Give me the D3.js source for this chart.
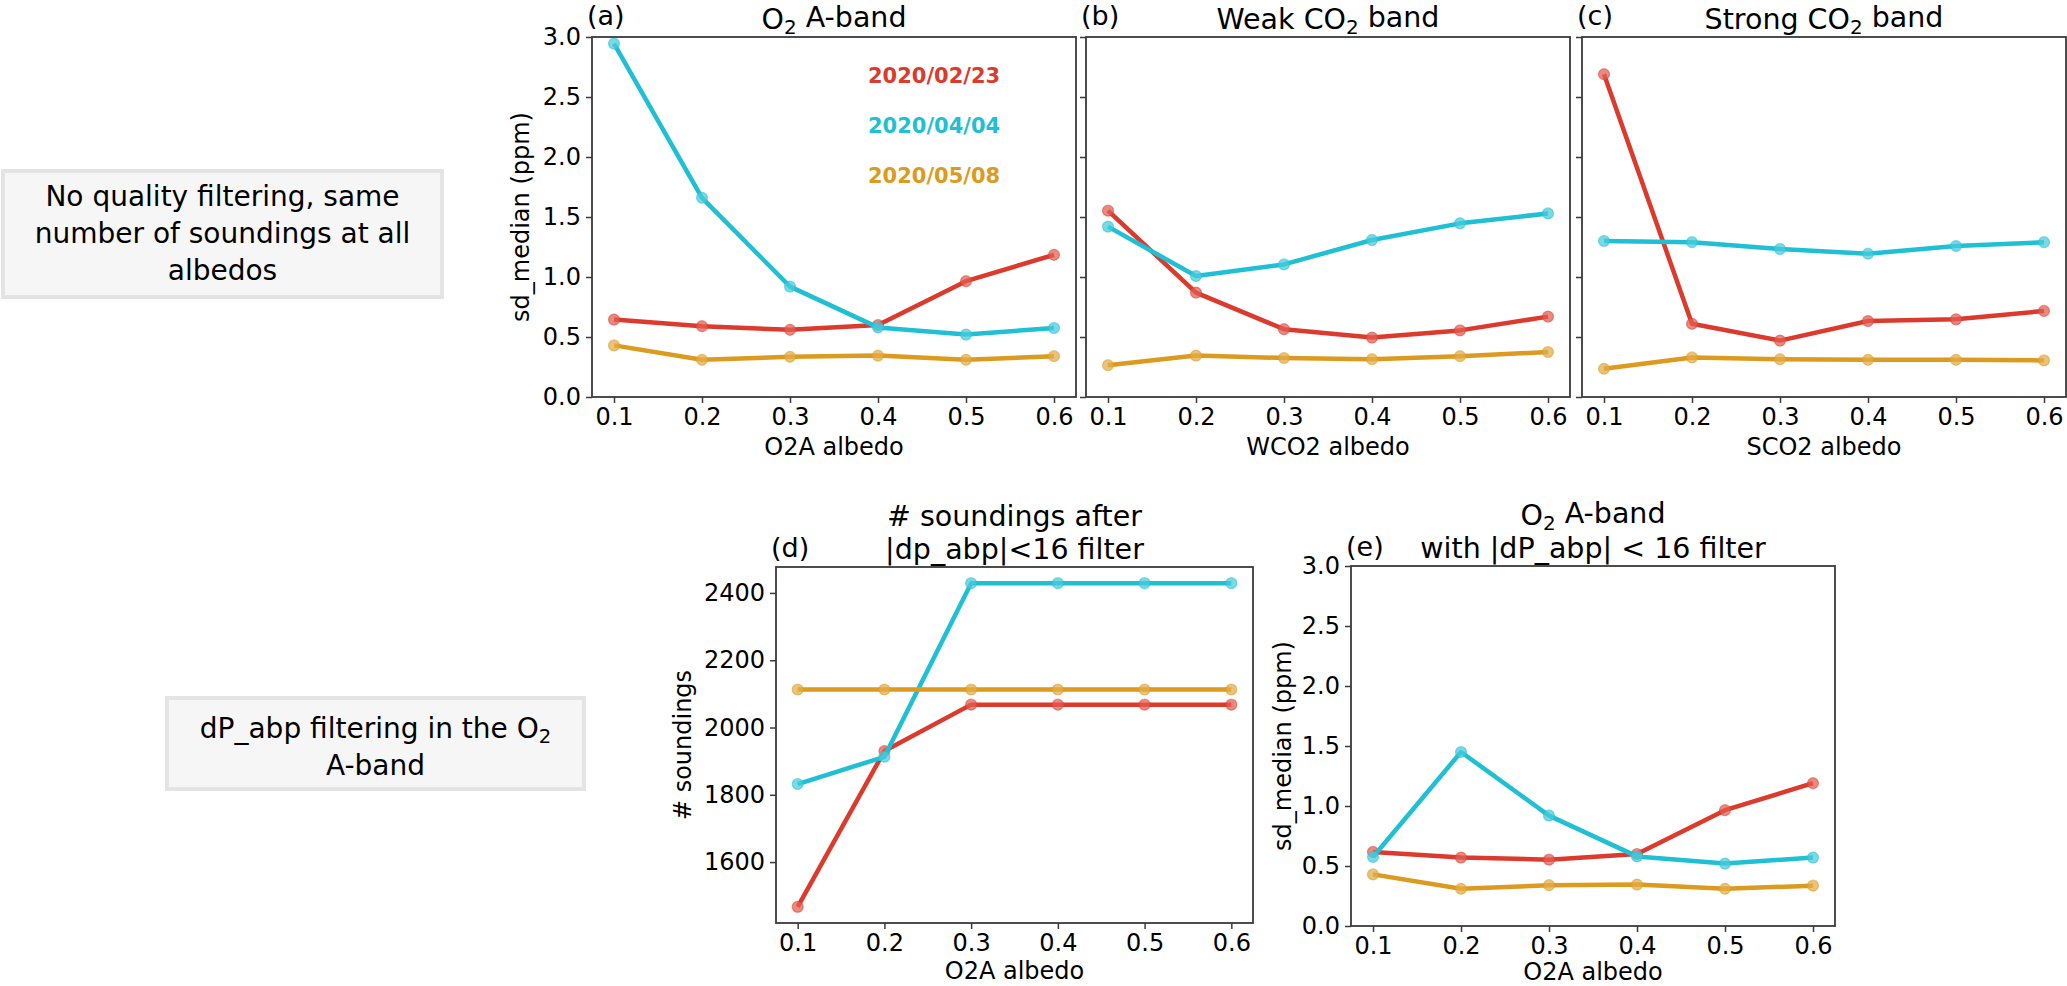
<!DOCTYPE html>
<html>
<head>
<meta charset="utf-8">
<script src="https://cdn.jsdelivr.net/npm/d3@7"></script>
<style>
  body { margin: 0; background: #fff; }
  svg { display: block; font-family: "DejaVu Sans", sans-serif; }
</style>
</head>
<body>
<svg id="chart" width="2067" height="986"></svg>
<script>
// albedo bins shared by every panel
const albedo = [0.1, 0.2, 0.3, 0.4, 0.5, 0.6];
const dates = ["2020/02/23", "2020/04/04", "2020/05/08"];
const colors = ["#dc3a2c", "#1fbfd4", "#dc9a1e"];

// (a) O2 A-band, sd_median (ppm)
const o2aRed    = [0.645, 0.59, 0.56, 0.60, 0.965, 1.185];
const o2aCyan   = [2.945, 1.66, 0.92, 0.58, 0.52, 0.575];
const o2aOrange = [0.43, 0.31, 0.335, 0.345, 0.31, 0.34];

// (b) weak CO2 band
const wco2Red    = [1.553, 0.87, 0.565, 0.495, 0.555, 0.67];
const wco2Cyan   = [1.42, 1.008, 1.105, 1.308, 1.447, 1.53];
const wco2Orange = [0.265, 0.345, 0.325, 0.315, 0.34, 0.375];

// (c) strong CO2 band
const sco2Red    = [2.69, 0.61, 0.47, 0.633, 0.647, 0.717];
const sco2Cyan   = [1.30, 1.29, 1.233, 1.194, 1.258, 1.29];
const sco2Orange = [0.235, 0.33, 0.315, 0.31, 0.31, 0.305];

// (d) number of soundings after |dp_abp|<16
const countRed    = [1467, 1930, 2068, 2068, 2068, 2068];
const countCyan   = [1832, 1913, 2429, 2429, 2429, 2429];
const countOrange = [2113, 2113, 2113, 2113, 2113, 2113];

// (e) O2 A-band with dP_abp filter
const filtRed    = [0.617, 0.57, 0.553, 0.60, 0.965, 1.19];
const filtCyan   = [0.575, 1.45, 0.92, 0.58, 0.52, 0.57];
const filtOrange = [0.43, 0.31, 0.34, 0.345, 0.31, 0.336];

const sdTicks = [0, 0.5, 1.0, 1.5, 2.0, 2.5, 3.0];
const countTicks = [1600, 1800, 2000, 2200, 2400];

const svg = d3.select("#chart");
const ink = "#3a3a3a";

function addSub(sel, parts) {
    // parts: [[text, isSub], ...]
    parts.forEach(([t, sub]) => {
        let ts = sel.append("tspan").text(t);
        if (sub) ts.attr("font-size", "0.7em").attr("dy", "0.25em");
        else if (sel.selectAll("tspan").size() > 1) ts.attr("dy", "-0.25em");
    });
}

function drawPanel(p) {
    let x = d3.scaleLinear().domain([0.075, 0.625]).range([p.left, p.left + p.width]);
    let yDom = p.yDomain;
    if (!yDom) {
        let all = p.series.flat();
        let lo = d3.min(all), hi = d3.max(all), pad = (hi - lo) * 0.05;
        yDom = [lo - pad, hi + pad];
    }
    let y = d3.scaleLinear().domain(yDom).range([p.top + p.height, p.top]);
    let g = svg.append("g");

    let xAxis = g.append("g")
        .attr("transform", `translate(0,${p.top + p.height})`)
        .call(d3.axisBottom(x).tickValues(albedo).tickFormat(d3.format(".1f")).tickSize(6).tickPadding(5));
    let yAxis = g.append("g")
        .attr("transform", `translate(${p.left},0)`)
        .call(d3.axisLeft(y).tickValues(p.yTicks)
            .tickFormat(p.yLabels ? p.yFormat : () => "").tickSize(6).tickPadding(5));
    [xAxis, yAxis].forEach(a => {
        a.select(".domain").remove();
        a.selectAll("line").attr("stroke", ink).attr("stroke-width", 1.5);
        a.selectAll("text").attr("font-size", 24).attr("fill", "#000")
            .attr("font-family", "DejaVu Sans");
    });

    let line = d3.line().x((d, i) => x(albedo[i])).y(d => y(d));
    p.series.forEach((s, k) => {
        g.append("path").datum(s).attr("d", line)
            .attr("fill", "none").attr("stroke", colors[k])
            .attr("stroke-width", 4.5).attr("stroke-linejoin", "round");
        let m = g.append("g");
        m.selectAll("circle.bg").data(s).enter().append("circle")
            .attr("cx", (d, i) => x(albedo[i])).attr("cy", d => y(d)).attr("r", 5.5)
            .attr("fill", "#fff").attr("fill-opacity", 0.35);
        m.selectAll("circle.fg").data(s).enter().append("circle")
            .attr("cx", (d, i) => x(albedo[i])).attr("cy", d => y(d)).attr("r", 5.5)
            .attr("fill", colors[k]).attr("fill-opacity", 0.6)
            .attr("stroke", colors[k]).attr("stroke-opacity", 0.5).attr("stroke-width", 1.2);
    });

    g.append("rect").attr("x", p.left).attr("y", p.top)
        .attr("width", p.width).attr("height", p.height)
        .attr("fill", "none").attr("stroke", ink).attr("stroke-width", 1.8);

    // x label
    g.append("text").attr("x", p.left + p.width / 2).attr("y", p.top + p.height + p.xLabelGap)
        .attr("text-anchor", "middle").attr("font-size", 24).text(p.xLabel);
    // y label
    if (p.yLabel) {
        g.append("text").attr("transform", `translate(${p.yLabelX},${p.top + p.height / 2}) rotate(-90)`)
            .attr("text-anchor", "middle").attr("dominant-baseline", "central")
            .attr("font-size", 24).text(p.yLabel);
    }
    // title lines
    p.title.forEach((parts, j) => {
        let t = g.append("text").attr("x", p.left + p.width / 2)
            .attr("y", p.top - 8 - (p.title.length - 1 - j) * 33)
            .attr("text-anchor", "middle").attr("font-size", 28.5);
        addSub(t, parts);
    });
    g.append("text").attr("x", p.left - 5).attr("y", p.top - (p.title.length > 1 ? 10 : 12))
        .attr("font-size", 27).text(p.letter);
}

const sdFmt = d3.format(".1f");

drawPanel({letter: "(a)", left: 592, top: 37, width: 484, height: 360, xLabelGap: 58,
    series: [o2aRed, o2aCyan, o2aOrange], yDomain: [0, 3], yTicks: sdTicks, yLabels: true, yFormat: sdFmt,
    title: [[["O", false], ["2", true], [" A-band", false]]], xLabel: "O2A albedo",
    yLabel: "sd_median (ppm)", yLabelX: 521});
drawPanel({letter: "(b)", left: 1086, top: 37, width: 484, height: 360, xLabelGap: 58,
    series: [wco2Red, wco2Cyan, wco2Orange], yDomain: [0, 3], yTicks: sdTicks, yLabels: false,
    title: [[["Weak CO", false], ["2", true], [" band", false]]], xLabel: "WCO2 albedo"});
drawPanel({letter: "(c)", left: 1582, top: 37, width: 484, height: 360, xLabelGap: 58,
    series: [sco2Red, sco2Cyan, sco2Orange], yDomain: [0, 3], yTicks: sdTicks, yLabels: false,
    title: [[["Strong CO", false], ["2", true], [" band", false]]], xLabel: "SCO2 albedo"});
drawPanel({letter: "(d)", left: 776, top: 567, width: 477, height: 356, xLabelGap: 56,
    series: [countRed, countCyan, countOrange], yTicks: countTicks, yLabels: true, yFormat: d3.format("d"),
    title: [[["# soundings after", false]], [["|dp_abp|<16 filter", false]]], xLabel: "O2A albedo",
    yLabel: "# soundings", yLabelX: 683});
drawPanel({letter: "(e)", left: 1351, top: 566, width: 484, height: 360, xLabelGap: 54,
    series: [filtRed, filtCyan, filtOrange], yDomain: [0, 3], yTicks: sdTicks, yLabels: true, yFormat: sdFmt,
    title: [[["O", false], ["2", true], [" A-band", false]], [["with |dP_abp| < 16 filter", false]]],
    xLabel: "O2A albedo", yLabel: "sd_median (ppm)", yLabelX: 1283});

// legend inside panel (a)
svg.append("g").selectAll("text").data(dates).enter().append("text")
    .attr("x", 868).attr("y", (d, i) => 83 + i * 50)
    .attr("font-size", 21).attr("font-weight", "bold")
    .attr("fill", (d, i) => colors[i]).text(d => d);

// row description boxes
function rowBox(x0, y0, w, h, lines, firstBase) {
    let g = svg.append("g");
    g.append("rect").attr("x", x0).attr("y", y0).attr("width", w).attr("height", h)
        .attr("fill", "#f6f6f6").attr("stroke", "#e4e4e4").attr("stroke-width", 4);
    lines.forEach((parts, j) => {
        let t = g.append("text").attr("x", x0 + w / 2).attr("y", firstBase + j * 37)
            .attr("text-anchor", "middle").attr("font-size", 28);
        addSub(t, parts);
    });
}
rowBox(3, 171, 439, 126, [
    [["No quality filtering, same", false]],
    [["number of soundings at all", false]],
    [["albedos", false]]], 206);
rowBox(167, 698, 417, 91, [
    [["dP_abp filtering in the O", false], ["2", true]],
    [["A-band", false]]], 738);
</script>
</body>
</html>
